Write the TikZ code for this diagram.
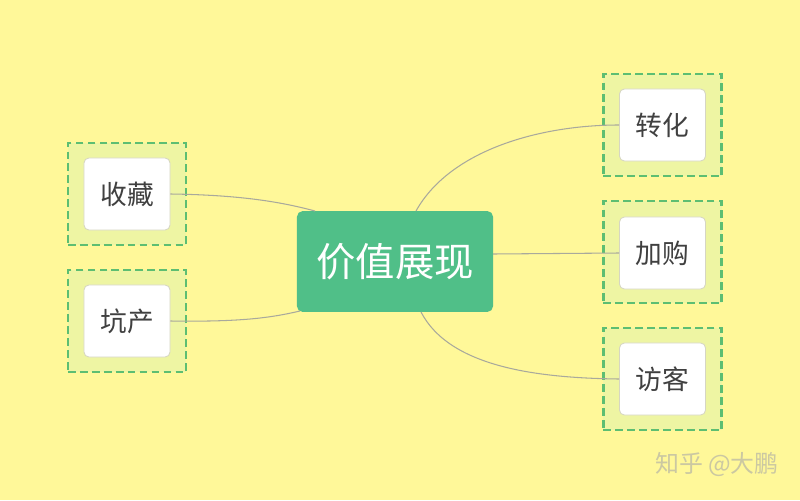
\documentclass[tikz,border=0pt]{standalone}
\usepackage{fontspec}
\newfontfamily\cjk{Noto Sans CJK SC}
\definecolor{bg}{HTML}{FFF899}
\definecolor{framefill}{HTML}{EEF5A3}
\definecolor{framedash}{HTML}{5DBE72}
\definecolor{hubgreen}{HTML}{50BF88}
\definecolor{linkgray}{HTML}{A9A99C}
\definecolor{leafborder}{HTML}{D6D6C2}
\definecolor{mark}{HTML}{CBC8A2}
\tikzset{
	frame/.style={draw=framedash,fill=framefill,line width=2pt,dash pattern=on 5.5pt off 3pt,
		minimum width=2.95cm,minimum height=2.55cm},
	leaf/.style={draw=leafborder,fill=white,rounded corners=3.5pt,line width=0.6pt,
		minimum width=2.15cm,minimum height=1.8cm,font=\cjk\fontsize{19}{19}\selectfont,text=black!75},
	hub/.style={fill=hubgreen,rounded corners=4pt,minimum width=4.9cm,minimum height=2.52cm,
		font=\cjk\fontsize{28}{28}\selectfont,text=white},
	link/.style={draw=linkgray,line width=0.75pt}
}

\begin{document}
\begin{tikzpicture}[x=0.025cm,y=-0.025cm]
	\useasboundingbox[fill=bg] (0,0) rectangle (800,500);

	% frames
	\node[frame] (f1) at (127,194) {};
	\node[frame] (f2) at (127,321) {};
	\node[frame] (f3) at (662.5,125) {};
	\node[frame] (f4) at (662.5,252) {};
	\node[frame] (f5) at (662.5,379) {};

	% centre
	\node[hub] (hub) at (395,261.5) {价值展现};

	% leaves
	\node[leaf] (shoucang) at (127,194) {收藏};
	\node[leaf] (kengchan) at (127,321) {坑产};
	\node[leaf] (zhuanhua) at (662.5,125) {转化};
	\node[leaf] (jiagou) at (662.5,253) {加购};
	\node[leaf] (fangke) at (662.5,379) {访客};

	% links
	\coordinate (h1) at (315,211);
	\coordinate (h2) at (300,311);
	\coordinate (h3) at (416,211);
	\coordinate (h4) at (493,254);
	\coordinate (h5) at (421,312);
	\draw[link] (shoucang.east) .. controls (245,195) and (285,203) .. (h1);
	\draw[link] (kengchan.east) .. controls (240,322) and (270,318) .. (h2);
	\draw[link] (h3) .. controls (450,150) and (540,125) .. (zhuanhua.west);
	\draw[link] (h4) -- (jiagou.west);
	\draw[link] (h5) .. controls (450,368) and (540,378) .. (fangke.west);

	% watermark
	\node[font=\cjk\fontsize{17}{17}\selectfont,text=mark] (wm) at (717,465) {知乎\ @大鹏};
\end{tikzpicture}
\end{document}
